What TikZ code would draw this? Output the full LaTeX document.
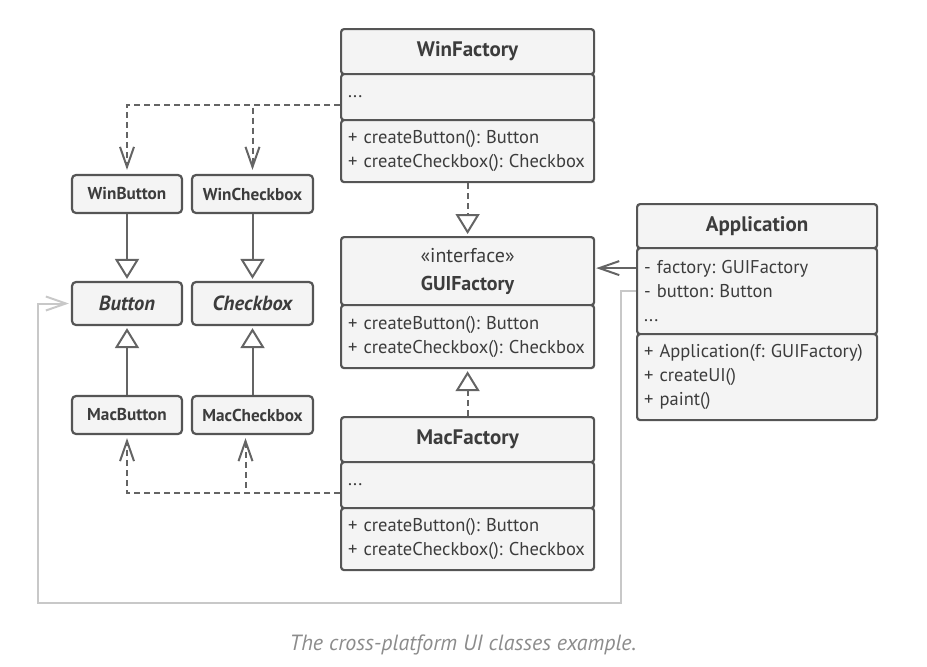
\documentclass[tikz,border=0pt]{standalone}
\usepackage{fontspec}
\setmainfont{PT Sans}
\frenchspacing
\usetikzlibrary{arrows.meta}
\definecolor{boxline}{RGB}{85,85,85}
\definecolor{boxfill}{RGB}{244,244,244}
\definecolor{textgray}{RGB}{60,60,60}
\definecolor{linkgray}{RGB}{100,100,100}
\definecolor{lightlink}{RGB}{200,200,200}
\definecolor{captiongray}{RGB}{140,140,140}

\begin{document}
\begin{tikzpicture}[x=1pt, y=-1pt,
        % Class compartments
        part/.style={draw=boxline, fill=boxfill, line width=2.2pt, rounded corners=3pt, anchor=north west, inner xsep=7pt, inner ysep=0pt, text=textgray, font=\fontsize{18.5}{24}\selectfont},
        head/.style={part, align=center, font=\fontsize{21}{24}\selectfont\bfseries},
        body/.style={part, align=left},
        factory/.style={text width=239pt},
        app/.style={text width=226pt},
        small/.style={part, anchor=center, rounded corners=4pt, font=\fontsize{17.2}{18}\selectfont\bfseries},
        abstract/.style={small, font=\fontsize{20.5}{20}\selectfont\bfseries\itshape},
        % Connector styles
        inherit/.style={draw=linkgray, line width=2pt, -{Triangle[length=20pt, width=24pt, fill=white]}},
        realize/.style={inherit, dash pattern=on 6pt off 4pt},
        assoc/.style={draw=linkgray, line width=2pt, -{Straight Barb[length=20pt, width=14pt]}},
        dep/.style={assoc, dash pattern=on 6pt off 4pt}
    ]
    \useasboundingbox (0,0) rectangle (927,667);

    % WinFactory
    \node[head, factory, minimum height=45pt] (wfhead) at (340,28) {WinFactory};
    \node[body, factory, minimum height=46pt] (wfattr) at (340,73) {...};
    \node[body, factory, minimum height=62pt] (wfops) at (340,119) {+ createButton(): Button\\+ createCheckbox(): Checkbox};

    % GUIFactory interface
    \node[head, factory, minimum height=68pt, font=\fontsize{20}{28}\selectfont] (guihead) at (340,236) {«interface»\\\textbf{GUIFactory}};
    \node[body, factory, minimum height=63pt] (guiops) at (340,304) {+ createButton(): Button\\+ createCheckbox(): Checkbox};

    % MacFactory
    \node[head, factory, minimum height=45pt] (mfhead) at (340,416) {MacFactory};
    \node[body, factory, minimum height=46pt] (mfattr) at (340,461) {...};
    \node[body, factory, minimum height=62pt] (mfops) at (340,507) {+ createButton(): Button\\+ createCheckbox(): Checkbox};

    % Application
    \node[head, app, minimum height=44pt] (apphead) at (636,203) {Application};
    \node[body, app, minimum height=86pt] (appattr) at (636,247) {- factory: GUIFactory\\- button: Button\\...};
    \node[body, app, minimum height=86pt] (appops) at (636,333) {+ Application(f: GUIFactory)\\+ createUI()\\+ paint()};

    % Products
    \node[small, minimum width=110pt, minimum height=38pt] (winbtn) at (127,194) {WinButton};
    \node[small, minimum width=121pt, minimum height=38pt] (winchk) at (252.5,194) {WinCheckbox};
    \node[abstract, minimum width=110pt, minimum height=43pt] (button) at (127,303.5) {Button};
    \node[abstract, minimum width=121pt, minimum height=43pt] (checkbox) at (252.5,303.5) {Checkbox};
    \node[small, minimum width=110pt, minimum height=38pt] (macbtn) at (127,415) {MacButton};
    \node[small, minimum width=121pt, minimum height=38pt] (macchk) at (252.5,415) {MacCheckbox};

    % Inheritance
    \draw[inherit, shorten >=2pt] (winbtn) -- (button);
    \draw[inherit, shorten >=2pt] (winchk) -- (checkbox);
    \draw[inherit, shorten >=2pt] (macbtn) -- (button);
    \draw[inherit, shorten >=2pt] (macchk) -- (checkbox);
    \draw[realize, shorten >=2pt] (wfops) -- (guihead);
    \draw[realize, shorten >=2pt] (mfhead) -- (guiops);

    % Factories create products
    \draw[dep, shorten >=4pt] ([yshift=-8pt]wfattr.west) -| (winbtn.north);
    \draw[dep, shorten >=4pt] ([yshift=-8pt]wfattr.west) -| (winchk.north);
    \draw[dep, shorten >=3pt] ([yshift=-8pt]mfattr.west) -| (macbtn.south);
    \draw[dep, shorten >=3pt] ([yshift=-8pt]mfattr.west) -| ([xshift=-7pt]macchk.south);

    % Application uses the factory and the button
    \coordinate (appfactory) at ([yshift=23pt]appattr.west);
    \draw[assoc, shorten >=1pt] (appfactory) -- (appfactory -| guihead.east);
    \coordinate (loopcorner) at (38,603);
    \draw[assoc, draw=lightlink, shorten >=2pt] (appattr.west) -- ++(-15,0) |- (loopcorner) |- (button.west);

    % Caption
    \node[text=captiongray, font=\fontsize{22}{24}\selectfont\itshape] (caption) at (463,645) {The cross-platform UI classes example.};

\end{tikzpicture}
\end{document}
